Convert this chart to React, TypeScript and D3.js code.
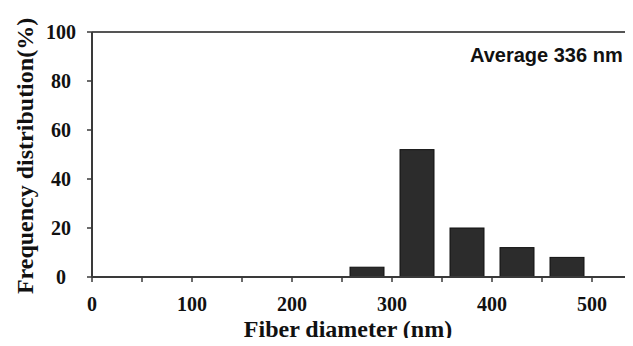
import { useEffect, useRef } from "react";
import * as d3 from "d3";

// bin centres (nm) and share of fibers (%)
const binCenters = [275, 325, 375, 425, 475];
const frequency = [4, 52, 20, 12, 8];
const binWidth = 50;

const xMinorTicks = [0, 50, 100, 150, 200, 250, 300, 350, 400, 450, 500];
const xTickLabels = [0, 100, 200, 300, 400, 500];
const yTickLabels = [0, 20, 40, 60, 80, 100];

const averageLabel = "Average 336 nm";
const xTitle = "Fiber diameter (nm)";
const yTitle = "Frequency distribution(%)";

const width = 633;
const height = 346;

function Histogram() {
  const svgRef = useRef<SVGSVGElement | null>(null);

  useEffect(() => {
    if (!svgRef.current) return;
    const svg = d3.select(svgRef.current);
    svg.selectAll("*").remove();

    const x = d3.scaleLinear().domain([0, 550]).range([92, 642]);
    const y = d3.scaleLinear().domain([0, 100]).range([277, 32]);
    const serif = "'Liberation Serif', 'Times New Roman', serif";
    const axisColor = "#3a3a3a";

    svg.append("rect").attr("width", width).attr("height", height).attr("fill", "#fff");

    // bars
    svg
      .append("g")
      .selectAll("rect")
      .data(binCenters)
      .enter()
      .append("rect")
      .attr("x", (d) => x(d - binWidth * 0.34))
      .attr("width", x(binWidth * 0.68) - x(0))
      .attr("y", (_, i) => y(frequency[i]))
      .attr("height", (_, i) => y(0) - y(frequency[i]))
      .attr("fill", "#2c2c2c")
      .attr("stroke", "#111")
      .attr("stroke-width", 1);

    // frame lines
    svg
      .append("line")
      .attr("x1", x(0)).attr("x2", width)
      .attr("y1", y(100)).attr("y2", y(100))
      .attr("stroke", "#555").attr("stroke-width", 2);
    svg
      .append("line")
      .attr("x1", x(0)).attr("x2", width)
      .attr("y1", y(0)).attr("y2", y(0))
      .attr("stroke", axisColor).attr("stroke-width", 2);
    svg
      .append("line")
      .attr("x1", x(0)).attr("x2", x(0))
      .attr("y1", y(100)).attr("y2", y(0))
      .attr("stroke", axisColor).attr("stroke-width", 2);

    // x ticks
    svg
      .append("g")
      .selectAll("line")
      .data(xMinorTicks)
      .enter()
      .append("line")
      .attr("x1", (d) => x(d)).attr("x2", (d) => x(d))
      .attr("y1", y(0)).attr("y2", y(0) + 5)
      .attr("stroke", axisColor).attr("stroke-width", 1.5);

    svg
      .append("g")
      .selectAll("text")
      .data(xTickLabels)
      .enter()
      .append("text")
      .attr("x", (d) => x(d))
      .attr("y", 311)
      .attr("text-anchor", "middle")
      .attr("font-family", serif)
      .attr("font-weight", "bold")
      .attr("font-size", 20)
      .attr("fill", "#111")
      .text((d) => d);

    // y ticks
    svg
      .append("g")
      .selectAll("line")
      .data(yTickLabels)
      .enter()
      .append("line")
      .attr("x1", x(0) - 5).attr("x2", x(0))
      .attr("y1", (d) => y(d)).attr("y2", (d) => y(d))
      .attr("stroke", axisColor).attr("stroke-width", 1.5);

    svg
      .append("g")
      .selectAll("text")
      .data(yTickLabels)
      .enter()
      .append("text")
      .attr("x", 61)
      .attr("y", (d) => y(d) + 7)
      .attr("text-anchor", "middle")
      .attr("font-family", serif)
      .attr("font-weight", "bold")
      .attr("font-size", 20)
      .attr("fill", "#111")
      .text((d) => d);

    // titles
    svg
      .append("text")
      .attr("x", 348)
      .attr("y", 337)
      .attr("text-anchor", "middle")
      .attr("font-family", serif)
      .attr("font-weight", "bold")
      .attr("font-size", 24)
      .attr("fill", "#111")
      .text(xTitle);

    svg
      .append("text")
      .attr("transform", "translate(33,156) rotate(-90)")
      .attr("text-anchor", "middle")
      .attr("font-family", serif)
      .attr("font-weight", "bold")
      .attr("font-size", 24)
      .attr("fill", "#111")
      .text(yTitle);

    svg
      .append("text")
      .attr("x", 470)
      .attr("y", 62)
      .attr("font-family", "'Liberation Sans', Arial, sans-serif")
      .attr("font-weight", "bold")
      .attr("font-size", 20)
      .attr("fill", "#111")
      .text(averageLabel);
  }, []);

  return <svg ref={svgRef} width={width} height={height} style={{ display: "block" }} />;
}

export default function App() {
  return (
    <div style={{ margin: -8, width, height, overflow: "hidden" }}>
      <Histogram />
    </div>
  );
}
